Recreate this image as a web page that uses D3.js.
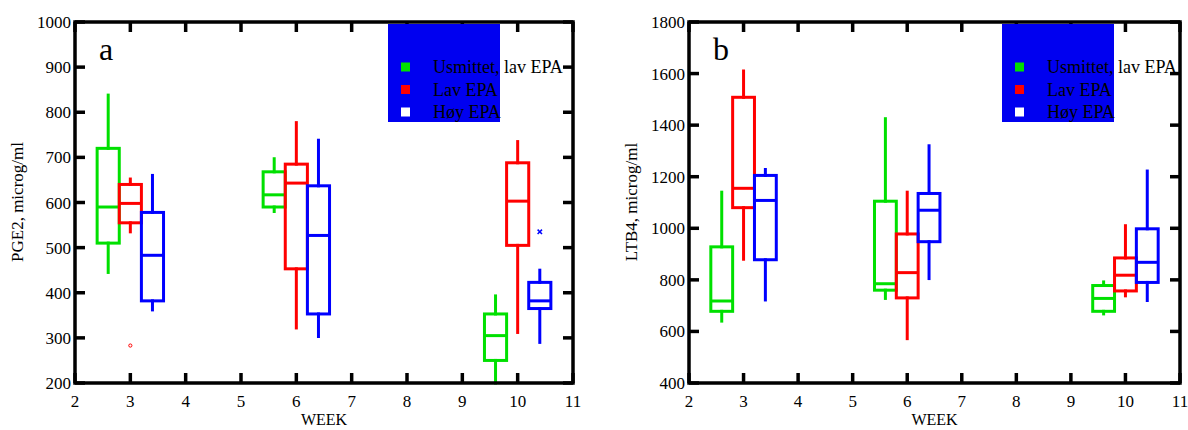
<!DOCTYPE html>
<html><head><meta charset="utf-8">
<script src="https://cdn.jsdelivr.net/npm/d3@7"></script>
<style>body{margin:0;background:#fff}svg{display:block}svg text{font-family:'Liberation Serif','Times New Roman',serif}</style>
</head><body>
<svg id="c" width="1188" height="430"></svg>
<script>
// ---- data ----
const weeks = [3, 6, 10];
const seriesNames = ["Usmittet, lav EPA", "Lav EPA", "Høy EPA"];
const xTicks = [2,3,4,5,6,7,8,9,10,11];
const pgeTicks = [200,300,400,500,600,700,800,900,1000];
const ltbTicks = [400,600,800,1000,1200,1400,1600,1800];
// [whiskerLow, Q1, median, Q3, whiskerHigh] per week
const pgeUsmittet = [[445,510,590,720,838],[580,590,617,668,697],[200,250,305,353,393]];
const pgeLav      = [[535,555,598,640,652],[322,453,643,685,777],[312,505,603,688,735]];
const pgeHoy      = [[362,382,483,578,660],[303,353,527,637,738],[290,365,382,423,450]];
const pgeOutCircle = [{week:3, value:283}];
const pgeOutCross  = [{week:10.4, value:535}];
const ltbUsmittet = [[640,678,718,928,1140],[728,760,785,1105,1425],[668,678,728,778,792]];
const ltbLav      = [[880,1080,1155,1508,1610],[572,730,828,978,1140],[738,757,818,885,1010]];
const ltbHoy      = [[722,878,1108,1205,1228],[805,948,1070,1135,1320],[720,790,868,998,1222]];

const colors = ["#00e000", "#ff0000", "#0000ff"];
const legendFill = ["#00e000", "#ff0000", "#ffffff"];
const offsets = [-0.4, 0, 0.4];
const boxW = 0.4;

const svg = d3.select("#c");

function panel(cfg) {
  const x = d3.scaleLinear().domain([2, 11]).range([cfg.left, cfg.right]);
  const y = d3.scaleLinear().domain(cfg.domain).range([383, 22]);
  const g = svg.append("g");

  const tl = 10;
  xTicks.forEach(t => {
    g.append("line").attr("x1", x(t)).attr("x2", x(t)).attr("y1", 383).attr("y2", 383 - tl)
      .attr("stroke", "#000").attr("stroke-width", 3.5);
    g.append("line").attr("x1", x(t)).attr("x2", x(t)).attr("y1", 22).attr("y2", 22 + tl)
      .attr("stroke", "#000").attr("stroke-width", 3.5);
    g.append("text").attr("x", x(t)).attr("y", 407).attr("text-anchor", "middle")
      .attr("font-size", 17).text(t);
  });
  cfg.yTicks.forEach(t => {
    g.append("line").attr("x1", cfg.left).attr("x2", cfg.left + tl).attr("y1", y(t)).attr("y2", y(t))
      .attr("stroke", "#000").attr("stroke-width", 3.5);
    g.append("line").attr("x1", cfg.right).attr("x2", cfg.right - tl).attr("y1", y(t)).attr("y2", y(t))
      .attr("stroke", "#000").attr("stroke-width", 3.5);
    g.append("text").attr("x", cfg.left - 4).attr("y", y(t) + 6).attr("text-anchor", "end")
      .attr("font-size", 17).text(t);
  });

  cfg.series.forEach((s, si) => {
    s.forEach((d, wi) => {
      const cx = weeks[wi] + offsets[si];
      const x0 = x(cx - boxW / 2), x1 = x(cx + boxW / 2), xc = x(cx);
      const c = colors[si];
      g.append("line").attr("x1", xc).attr("x2", xc).attr("y1", y(d[0])).attr("y2", y(d[1]))
        .attr("stroke", c).attr("stroke-width", 3).attr("stroke-linecap", "square");
      g.append("line").attr("x1", xc).attr("x2", xc).attr("y1", y(d[3])).attr("y2", y(d[4]))
        .attr("stroke", c).attr("stroke-width", 3).attr("stroke-linecap", "square");
      g.append("rect").attr("x", x0).attr("y", y(d[3])).attr("width", x1 - x0)
        .attr("height", y(d[1]) - y(d[3])).attr("fill", "none").attr("stroke", c).attr("stroke-width", 3);
      g.append("line").attr("x1", x0).attr("x2", x1).attr("y1", y(d[2])).attr("y2", y(d[2]))
        .attr("stroke", c).attr("stroke-width", 3);
    });
  });

  (cfg.outCircle || []).forEach(o => {
    g.append("circle").attr("cx", x(o.week)).attr("cy", y(o.value)).attr("r", 1.6)
      .attr("fill", "none").attr("stroke", colors[1]).attr("stroke-width", 1);
  });
  (cfg.outCross || []).forEach(o => {
    const px = x(o.week), py = y(o.value), r = 2.2;
    g.append("path").attr("d", `M${px-r},${py-r}L${px+r},${py+r}M${px-r},${py+r}L${px+r},${py-r}`)
      .attr("stroke", colors[2]).attr("stroke-width", 1.5);
  });

  g.append("rect").attr("x", cfg.left).attr("y", 22).attr("width", cfg.right - cfg.left)
    .attr("height", 361).attr("fill", "none").attr("stroke", "#000").attr("stroke-width", 3.5);

  const lx = cfg.left + 313;
  g.append("rect").attr("x", lx).attr("y", 24).attr("width", 112).attr("height", 98).attr("fill", "#0000f0");
  seriesNames.forEach((n, i) => {
    const ly = 67 + i * 22.5;
    g.append("rect").attr("x", lx + 13).attr("y", ly - 4.5).attr("width", 9).attr("height", 9)
      .attr("fill", legendFill[i]);
    g.append("text").attr("x", lx + 45).attr("y", ly + 6)
      .attr("font-size", 18).attr("fill", "#000").text(n);
  });

  g.append("text").attr("x", cfg.left + 24).attr("y", 60).attr("font-size", 32).text(cfg.letter);

  g.append("text").attr("x", (cfg.left + cfg.right) / 2).attr("y", 425).attr("text-anchor", "middle")
    .attr("font-size", 16).text("WEEK");
  g.append("text").attr("transform", `translate(${cfg.left - 52},202) rotate(-90)`)
    .attr("text-anchor", "middle").attr("font-size", 17).text(cfg.ylabel);
}

panel({left: 75, right: 573, domain: [200, 1000], yTicks: pgeTicks, letter: "a",
  ylabel: "PGE2, microg/ml", series: [pgeUsmittet, pgeLav, pgeHoy],
  outCircle: pgeOutCircle, outCross: pgeOutCross});
panel({left: 689, right: 1180, domain: [400, 1800], yTicks: ltbTicks, letter: "b",
  ylabel: "LTB4, microg/ml", series: [ltbUsmittet, ltbLav, ltbHoy]});
</script>
</body></html>
